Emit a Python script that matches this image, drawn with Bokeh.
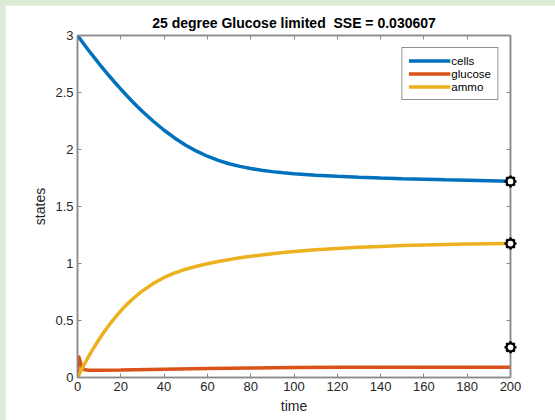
from bokeh.plotting import figure
from bokeh.models import Range1d, FixedTicker, LinearAxis, Legend, LegendItem, GlobalInlineStyleSheet
from bokeh.embed import file_html
from bokeh.resources import INLINE

# ---------------- data ----------------
title_text = "25 degree Glucose limited \u00a0SSE = 0.030607"
x_label = "time"
y_label = "states"
series_names = ["cells", "glucose", "ammo"]

t_cells = [0, 2.5, 5, 7.5, 10, 12.5, 15, 17.5, 20, 22.5, 25, 27.5, 30, 35, 40,
           45, 50, 55, 60, 65, 70, 75, 80, 85, 90, 95, 100, 110, 120, 130, 140,
           150, 160, 170, 180, 190, 200]
cells = [3.0, 2.936, 2.873, 2.812, 2.752, 2.694, 2.638, 2.583, 2.53, 2.478,
         2.428, 2.38, 2.334, 2.248, 2.169, 2.099, 2.038, 1.985, 1.941, 1.905,
         1.875, 1.852, 1.833, 1.818, 1.806, 1.796, 1.788, 1.775, 1.765, 1.757,
         1.75, 1.744, 1.739, 1.734, 1.73, 1.726, 1.722]

t_glucose = [0, 0.4, 1.0, 1.8, 3, 5, 10, 20, 40, 60, 80, 100, 120, 150, 200]
glucose = [0.0, 0.19, 0.16, 0.10, 0.07, 0.064, 0.064, 0.066, 0.072, 0.078,
           0.083, 0.087, 0.089, 0.09, 0.09]

t_ammo = [0, 2.5, 5, 7.5, 10, 12.5, 15, 17.5, 20, 22.5, 25, 27.5, 30, 35, 40,
          45, 50, 55, 60, 65, 70, 75, 80, 85, 90, 95, 100, 110, 120, 130, 140,
          150, 160, 170, 180, 190, 200]
ammo = [0.0, 0.092, 0.18, 0.26, 0.335, 0.405, 0.47, 0.53, 0.585, 0.635, 0.68,
        0.722, 0.76, 0.825, 0.878, 0.918, 0.95, 0.976, 0.998, 1.017, 1.034,
        1.05, 1.063, 1.075, 1.086, 1.096, 1.105, 1.12, 1.132, 1.142, 1.15,
        1.157, 1.162, 1.167, 1.17, 1.173, 1.175]

obs_time = [200, 200, 200]
obs_vals = [1.72, 1.175, 0.265]

x_ticks = [0, 20, 40, 60, 80, 100, 120, 140, 160, 180, 200]
x_tick_labels = ["0", "20", "40", "60", "80", "100", "120", "140", "160", "180", "200"]
y_ticks = [0, 0.5, 1, 1.5, 2, 2.5, 3]
y_tick_labels = ["0", "0.5", "1", "1.5", "2", "2.5", "3"]

# ---------------- styling ----------------
FONT = "Liberation Sans"
AXIS_GRAY = "#8a8a8a"
TEXT_COLOR = "#262626"
colors = ["#0072BD", "#D95319", "#EDB120"]

p = figure(width=550, height=415, output_backend="svg", toolbar_location=None,
           x_range=Range1d(0, 200), y_range=Range1d(0, 3),
           min_border_left=72, min_border_right=45, min_border_top=30,
           min_border_bottom=43, background_fill_color="white",
           border_fill_color="white", outline_line_color=AXIS_GRAY,
           outline_line_width=1.5)

p.stylesheets = [GlobalInlineStyleSheet(
    css="html, body { margin: 0; background: #dcebd6; overflow: hidden; } "
        "body { padding: 5px 0 0 5px !important; box-sizing: border-box; }")]

p.title.text = title_text
p.title.align = "center"
p.title.text_font = FONT
p.title.text_font_size = "14px"
p.title.text_font_style = "bold"
p.title.text_color = "#000000"

p.xgrid.grid_line_color = None
p.ygrid.grid_line_color = None


def style_axis(ax, show_labels=True):
    ax.axis_line_color = AXIS_GRAY
    ax.axis_line_width = 1.5
    ax.major_tick_line_color = AXIS_GRAY
    ax.major_tick_line_width = 1
    ax.major_tick_in = 4
    ax.major_tick_out = 0
    ax.minor_tick_line_color = None
    ax.major_label_text_font = FONT
    ax.major_label_text_color = TEXT_COLOR
    ax.axis_label_text_font = FONT
    ax.axis_label_text_font_style = "normal"
    ax.axis_label_text_color = TEXT_COLOR
    if show_labels:
        ax.major_label_text_font_size = "13px"
        ax.axis_label_text_font_size = "14px"
        ax.major_label_standoff = 4
        ax.axis_label_standoff = 4
    else:
        ax.major_label_text_font_size = "1px"
        ax.major_label_standoff = 0


xa = p.xaxis[0]
ya = p.yaxis[0]
xa.ticker = FixedTicker(ticks=x_ticks)
ya.ticker = FixedTicker(ticks=y_ticks)
xa.major_label_overrides = {t: l for t, l in zip(x_ticks, x_tick_labels)}
ya.major_label_overrides = {t: l for t, l in zip(y_ticks, y_tick_labels)}
xa.axis_label = x_label
ya.axis_label = y_label
style_axis(xa)
style_axis(ya)

# mirrored tick marks on the top and right edges (MATLAB box style)
top_ax = LinearAxis(ticker=FixedTicker(ticks=x_ticks),
                    major_label_overrides={t: "" for t in x_ticks})
right_ax = LinearAxis(ticker=FixedTicker(ticks=y_ticks),
                      major_label_overrides={t: "" for t in y_ticks})
style_axis(top_ax, False)
style_axis(right_ax, False)
p.add_layout(top_ax, "above")
p.add_layout(right_ax, "right")

r_cells = p.line(t_cells, cells, line_color=colors[0], line_width=3.5)
r_gluc = p.line(t_glucose, glucose, line_color=colors[1], line_width=3.5)
r_ammo = p.line(t_ammo, ammo, line_color=colors[2], line_width=3.5)

p.scatter(obs_time, obs_vals, marker="asterisk", size=12, line_color="black",
          line_width=2.5, level="overlay")
p.scatter(obs_time, obs_vals, marker="circle", size=8, fill_color="white",
          line_color="black", line_width=2.2, level="overlay")

legend = Legend(items=[LegendItem(label=series_names[0], renderers=[r_cells]),
                       LegendItem(label=series_names[1], renderers=[r_gluc]),
                       LegendItem(label=series_names[2], renderers=[r_ammo])],
                location="top_right")
legend.margin = 12
legend.padding = 6
legend.spacing = 0
legend.label_height = 13
legend.glyph_height = 13
legend.glyph_width = 42
legend.label_standoff = 1
legend.label_text_font = FONT
legend.label_text_font_size = "11.5px"
legend.label_text_color = "#000000"
legend.border_line_color = "#262626"
legend.border_line_width = 1
legend.background_fill_color = "white"
legend.background_fill_alpha = 1.0
p.add_layout(legend, "center")

open("out.html", "w").write(file_html(p, INLINE))
